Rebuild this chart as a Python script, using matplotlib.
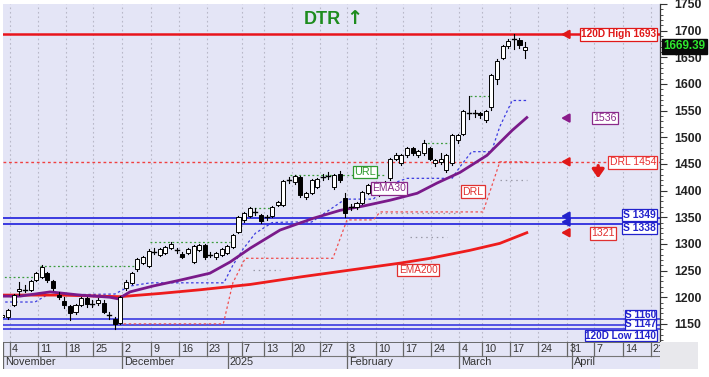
import matplotlib
matplotlib.use("Agg")
import matplotlib.pyplot as plt
import numpy as np
from matplotlib.patches import Rectangle

plt.rcParams['font.family'] = ['Liberation Sans', 'DejaVu Sans']

# ---------------- data ----------------
start_index = -1
opens  = [1163,1163,1185,1212,1214,1214,1232,1238,1245,1230,1205,1193,1183,1172,1185,1198,1188,1190,1190,1167,1160,1152,
          1217,1227,1252,1264,1258,1285,1279,1283,1292,1288,1281,1283,1266,1288,1298,1280,1275,1280,1283,1294,1322,1345,
          1352,1360,1354,1350,1352,1373,1373,1419,1416,1425,1388,1395,1406,1425,1428,1406,1432,1386,1369,1369,1376,1395,
          1410,1393,1395,1423,1460,1451,1466,1479,1466,1470,1479,1451,1453,1438,1451,1494,1507,1545,1545,1545,1532,1556,
          1610,1649,1672,1685,1682,1663]
closes = [1167,1176,1204,1215,1215,1230,1245,1256,1232,1217,1200,1185,1170,1185,1198,1187,1189,1195,1172,1166,1150,1200,
          1229,1246,1272,1275,1287,1286,1290,1294,1300,1287,1275,1290,1296,1298,1276,1279,1283,1290,1296,1316,1350,1358,
          1367,1361,1343,1350,1369,1378,1418,1420,1427,1391,1395,1419,1422,1426,1428,1429,1419,1358,1370,1376,1397,1410,
          1395,1397,1416,1460,1466,1466,1479,1470,1475,1489,1460,1457,1460,1466,1504,1504,1550,1546,1544,1541,1550,1616,
          1644,1672,1680,1684,1674,1669.39]
highs  = [1170,1178,1206,1228,1222,1232,1248,1260,1248,1232,1210,1200,1186,1188,1200,1200,1195,1198,1194,1172,1163,1202,
          1232,1248,1274,1278,1290,1292,1293,1296,1303,1293,1284,1292,1298,1300,1300,1285,1285,1292,1298,1318,1352,1360,
          1369,1368,1356,1355,1371,1380,1420,1426,1430,1427,1398,1421,1424,1432,1435,1431,1436,1395,1375,1378,1399,1412,
          1412,1402,1418,1462,1470,1468,1481,1482,1477,1494,1482,1460,1470,1468,1506,1507,1552,1578,1552,1548,1552,1618,
          1646,1674,1684,1693,1686,1678]
lows   = [1152,1160,1183,1205,1210,1212,1230,1236,1228,1214,1196,1180,1157,1168,1183,1182,1182,1186,1170,1160,1141,1150,
          1214,1225,1250,1262,1256,1281,1277,1281,1290,1283,1273,1281,1264,1286,1272,1276,1272,1278,1281,1292,1320,1342,
          1350,1355,1340,1345,1350,1371,1371,1414,1413,1388,1385,1393,1404,1420,1422,1403,1416,1350,1364,1366,1374,1393,
          1392,1390,1393,1420,1457,1448,1463,1467,1463,1467,1457,1446,1449,1435,1448,1490,1505,1535,1538,1536,1528,1552,
          1600,1646,1668,1665,1668,1648]

# indicator lines (bar index, price)
ema30_idx  = [-1.4, 2.1, 7.5, 12.8, 18.1, 19.6, 21.7, 25.8, 30.6, 35.9, 39.5, 43.1, 48.4, 54.3, 59.1, 63.2, 68.0, 72.8, 76.3, 80.4, 85.2, 89.7, 92.3]
ema30_val  = [1202, 1202, 1210, 1204, 1200, 1197, 1210, 1221, 1232, 1245, 1266, 1292, 1326, 1348, 1363, 1371, 1382, 1395, 1414, 1434, 1466, 1513, 1537]
ema200_idx = [-1.4, 9.3, 19.9, 27.0, 34.2, 43.1, 52.0, 60.9, 69.8, 75.1, 82.2, 87.5, 92.3]
ema200_val = [1204, 1204, 1201, 1207, 1214, 1224, 1238, 1251, 1264, 1273, 1288, 1301, 1321]
trail_idx  = [-1.4, 4.8, 6.9, 19.0, 21.7, 25.3, 38.4, 40.0, 41.8, 44.0, 47.0, 50.0, 54.0, 60.0, 65.0, 67.5, 71.0, 79.0, 80.5, 82.5, 86.0, 87.5, 89.7, 92.3]
trail_val  = [1191, 1191, 1204, 1206, 1221, 1227, 1227, 1260, 1290, 1320, 1340, 1341, 1341, 1384, 1384, 1410, 1423, 1423, 1446, 1473, 1473, 1520, 1569, 1569]
drl_idx    = [18.8, 38.3, 40.0, 42.2, 57.8, 60.3, 65.0, 66.2, 84.5, 85.8, 87.5, 92.3]
drl_val    = [1150, 1150, 1227, 1273, 1273, 1345, 1345, 1360, 1360, 1400, 1454, 1454]
url_segs   = [(-1.4, 5.7, 1238), (5.7, 23.5, 1258), (25.3, 39.5, 1304), (43.1, 47.2, 1367), (50.2, 67.0, 1429), (73.9, 78.6, 1489), (82.2, 85.8, 1578)]
grey_segs  = [(43.6, 48.4, 1251), (71.5, 78.1, 1313), (66.2, 80.4, 1358), (87.5, 92.3, 1419)]

# horizontal levels
high_120d, low_120d = 1693, 1140
drl_level = 1454
supports_hi = [1349, 1338]
supports_lo = [1160, 1147]
ema30_last, ema200_last = 1536, 1321
last_price = 1669.39

day_ticks   = [0.3, 5.3, 10.3, 15.2, 20.3, 25.5, 30.5, 35.4, 41.6, 45.6, 50.5, 55.5, 60.3, 65.5, 70.3, 75.3, 80.3, 84.3, 89.3, 94.3, 99.5, 104.3, 109.4, 114.4]
day_labels  = ['4', '11', '18', '25', '2', '9', '16', '23', '7', '13', '20', '27', '3', '10', '17', '24', '4', '10', '17', '24', '31', '7', '14', '21']
month_pos   = [-0.9, 20.3, 39.1, 60.3, 80.3, 100.4]
month_names = ['November', 'December', '2025', 'February', 'March', 'April']
yticks      = [1150, 1200, 1250, 1300, 1350, 1400, 1450, 1500, 1550, 1600, 1650, 1700, 1750]

# ---------------- layout ----------------
W, H = 709, 377
fig = plt.figure(figsize=(W / 100, H / 100), dpi=100)
fig.patch.set_facecolor('white')

def ax_rect(x0, y0, x1, y1):
    return [x0 / W, 1 - y1 / H, (x1 - x0) / W, (y1 - y0) / H]

BG = '#e4e5f6'
ax = fig.add_axes(ax_rect(3, 4, 660, 342))
ax.set_facecolor(BG)
xmin, xmax = -0.9, 116.0
ax.set_xlim(xmin, xmax)
ax.set_ylim(1116, 1748.6)

# grid
for t in day_ticks:
    ax.axvline(t, color='#b8b8c8', lw=0.8, ls=(0, (1.5, 2.5)), zorder=0)

# horizontal levels
ax.axhline(high_120d, color='#e8141c', lw=1.8, zorder=2)
ax.axhline(drl_level, color='#f04040', lw=1.0, ls=(0, (2, 2)), zorder=2)
for s in supports_hi:
    ax.axhline(s, color='#3a3ae0', lw=1.4, zorder=2)
for s in supports_lo + [low_120d]:
    ax.axhline(s, color='#3a3ae0', lw=1.2, zorder=2)

# step / indicator lines
for x0, x1, v in url_segs:
    ax.plot([x0, x1], [v, v], color='#3c9c3c', lw=0.9, ls=(0, (1.5, 2)), zorder=2)
for x0, x1, v in grey_segs:
    ax.plot([x0, x1], [v, v], color='#9a9aa8', lw=0.9, ls=(0, (1.2, 3)), zorder=2)
ax.plot(trail_idx, trail_val, color='#3a3ae0', lw=0.9, ls=(0, (2, 2)), zorder=2)
ax.plot(drl_idx, drl_val, color='#f05050', lw=0.9, ls=(0, (2, 2)), zorder=2)
ax.plot(ema200_idx, ema200_val, color='#ee1c1c', lw=2.0, zorder=3)
ax.plot(ema30_idx, ema30_val, color='#7a1a8a', lw=2.0, zorder=3)

# candles
bw = 0.72
for k, (o, h, l, c) in enumerate(zip(opens, highs, lows, closes)):
    x = start_index + k
    ax.plot([x, x], [l, h], color='black', lw=0.8, zorder=4)
    lo_, hi_ = min(o, c), max(o, c)
    if hi_ - lo_ < 1.2:
        ax.plot([x - bw / 2, x + bw / 2], [o, o], color='black', lw=1.0, zorder=5)
    else:
        ax.add_patch(Rectangle((x - bw / 2, lo_), bw, hi_ - lo_,
                               facecolor='white' if c > o else 'black',
                               edgecolor='black', lw=0.7, zorder=5))

# label boxes
def box(x, y, s, color, ha='left', fs=7.6, fc='white', pad=0.12, fw='normal'):
    ax.text(x, y, s, color=color, fontsize=fs, ha=ha, va='center', zorder=8, fontweight=fw,
            bbox=dict(boxstyle='square,pad=%g' % pad, fc=fc, ec=color, lw=0.9))

xr = 115.3
box(xr, high_120d, '120D High 1693', '#e01818', ha='right', fs=7.3, fw='bold')
box(xr, drl_level - 1, 'DRL 1454', '#e83030', ha='right', fs=7.5)
box(xr, 1349 + 5, 'S 1349', '#2222cc', ha='right', fs=7.5, pad=0.08, fw='bold')
box(xr, 1338 - 8, 'S 1338', '#2222cc', ha='right', fs=7.5, pad=0.08, fw='bold')
box(xr, 1160 + 6, 'S 1160', '#2222cc', ha='right', fs=7.2, pad=0.03, fw='bold')
box(xr, 1147 + 2, 'S 1147', '#2222cc', ha='right', fs=7.2, pad=0.03, fw='bold')
box(xr, 1140 - 12, '120D Low 1140', '#2222cc', ha='right', fs=7.2, pad=0.05, fw='bold')
box(104.2, ema30_last, '1536', '#8a2a8a', fs=7.6)
box(103.7, ema200_last - 1, '1321', '#e03030', fs=7.6)
box(61.6, 1435, 'URL', '#2f9a2f', fs=7.8)
box(64.8, 1404, 'EMA30', '#8a2a8a', fs=7.4)
box(80.8, 1398, 'DRL', '#e03030', fs=7.6)
box(69.5, 1251, 'EMA200', '#e03030', fs=7.2)

# arrows at right
ax_x = 98.8
def larrow(y, color):
    ax.annotate('', xy=(ax_x - 0.9, y), xytext=(ax_x + 1.0, y),
                arrowprops=dict(arrowstyle='-|>,head_width=0.25,head_length=0.45', color=color, lw=1.6), zorder=9)
larrow(high_120d, '#e01818')
larrow(drl_level, '#e01818')
larrow(1352, '#2222cc')
larrow(1341, '#2222cc')
larrow(ema30_last, '#8a1a8a')
larrow(ema200_last, '#e01818')
ax.annotate('', xy=(105.0, 1418), xytext=(105.0, 1452),
            arrowprops=dict(arrowstyle='-|>,head_width=0.35,head_length=0.5', color='#e01818', lw=2.4), zorder=9)

# title
fig.text(322 / W, 1 - 19 / H, 'DTR', color='#1e8c1e', fontsize=13, fontweight='bold', ha='center', va='center')
fig.text(354 / W, 1 - 18 / H, '\u2191', color='#1e8c1e', fontsize=14, fontweight='bold', ha='center', va='center',
         family=['DejaVu Sans'])

# right axis
ax.yaxis.tick_right()
ax.set_yticks(yticks)
ax.set_yticklabels([str(v) for v in yticks], fontsize=8.8, fontweight='bold', color='#222222')
ax.set_yticks(np.arange(1120, 1750, 10), minor=True)
ax.tick_params(axis='y', which='major', length=5, width=0.8, color='#333333', pad=5)
ax.tick_params(axis='y', which='minor', length=2.5, width=0.6, color='#333333')
ax.set_xticks([])
for sp in ['top', 'left', 'bottom']:
    ax.spines[sp].set_visible(False)
ax.spines['right'].set_color('#333333')
ax.spines['right'].set_linewidth(0.9)

# last price box
ax.text(1.005, (last_price - 1116) / (1748.6 - 1116), '1669.39', transform=ax.transAxes, fontsize=8.4,
        fontweight='bold', color='#2ee82e', ha='left', va='center', zorder=10, clip_on=False,
        bbox=dict(boxstyle='square,pad=0.15', fc='#0a0a0a', ec='#0a0a0a'))

# date axis
dax = fig.add_axes(ax_rect(3, 342, 660, 369))
dax.set_facecolor(BG)
dax.set_xlim(xmin, xmax)
dax.set_ylim(0, 2)
dax.set_xticks([])
dax.set_yticks([])
for sp in dax.spines.values():
    sp.set_visible(False)
dax.axhline(2, color='#555555', lw=1.2)
dax.axhline(1, color='#777777', lw=0.8)
for t, lab in zip(day_ticks, day_labels):
    dax.plot([t, t], [1, 2], color='#666666', lw=0.9)
    dax.text(t + 0.35, 1.5, lab, fontsize=7.8, color='#333333', ha='left', va='center', clip_on=True)
for m, name in zip(month_pos, month_names):
    dax.plot([m, m], [0, 2], color='#666666', lw=0.9)
    dax.text(m + 0.35, 0.5, name, fontsize=7.8, color='#333333', ha='left', va='center', clip_on=True)

# bottom-right corner box
fig.patches.append(Rectangle((660 / W, 1 - 369 / H), 38 / W, 27 / H, transform=fig.transFigure,
                             facecolor='#e8e8ec', edgecolor='none', zorder=0))

fig.savefig('out.png', dpi=100)
